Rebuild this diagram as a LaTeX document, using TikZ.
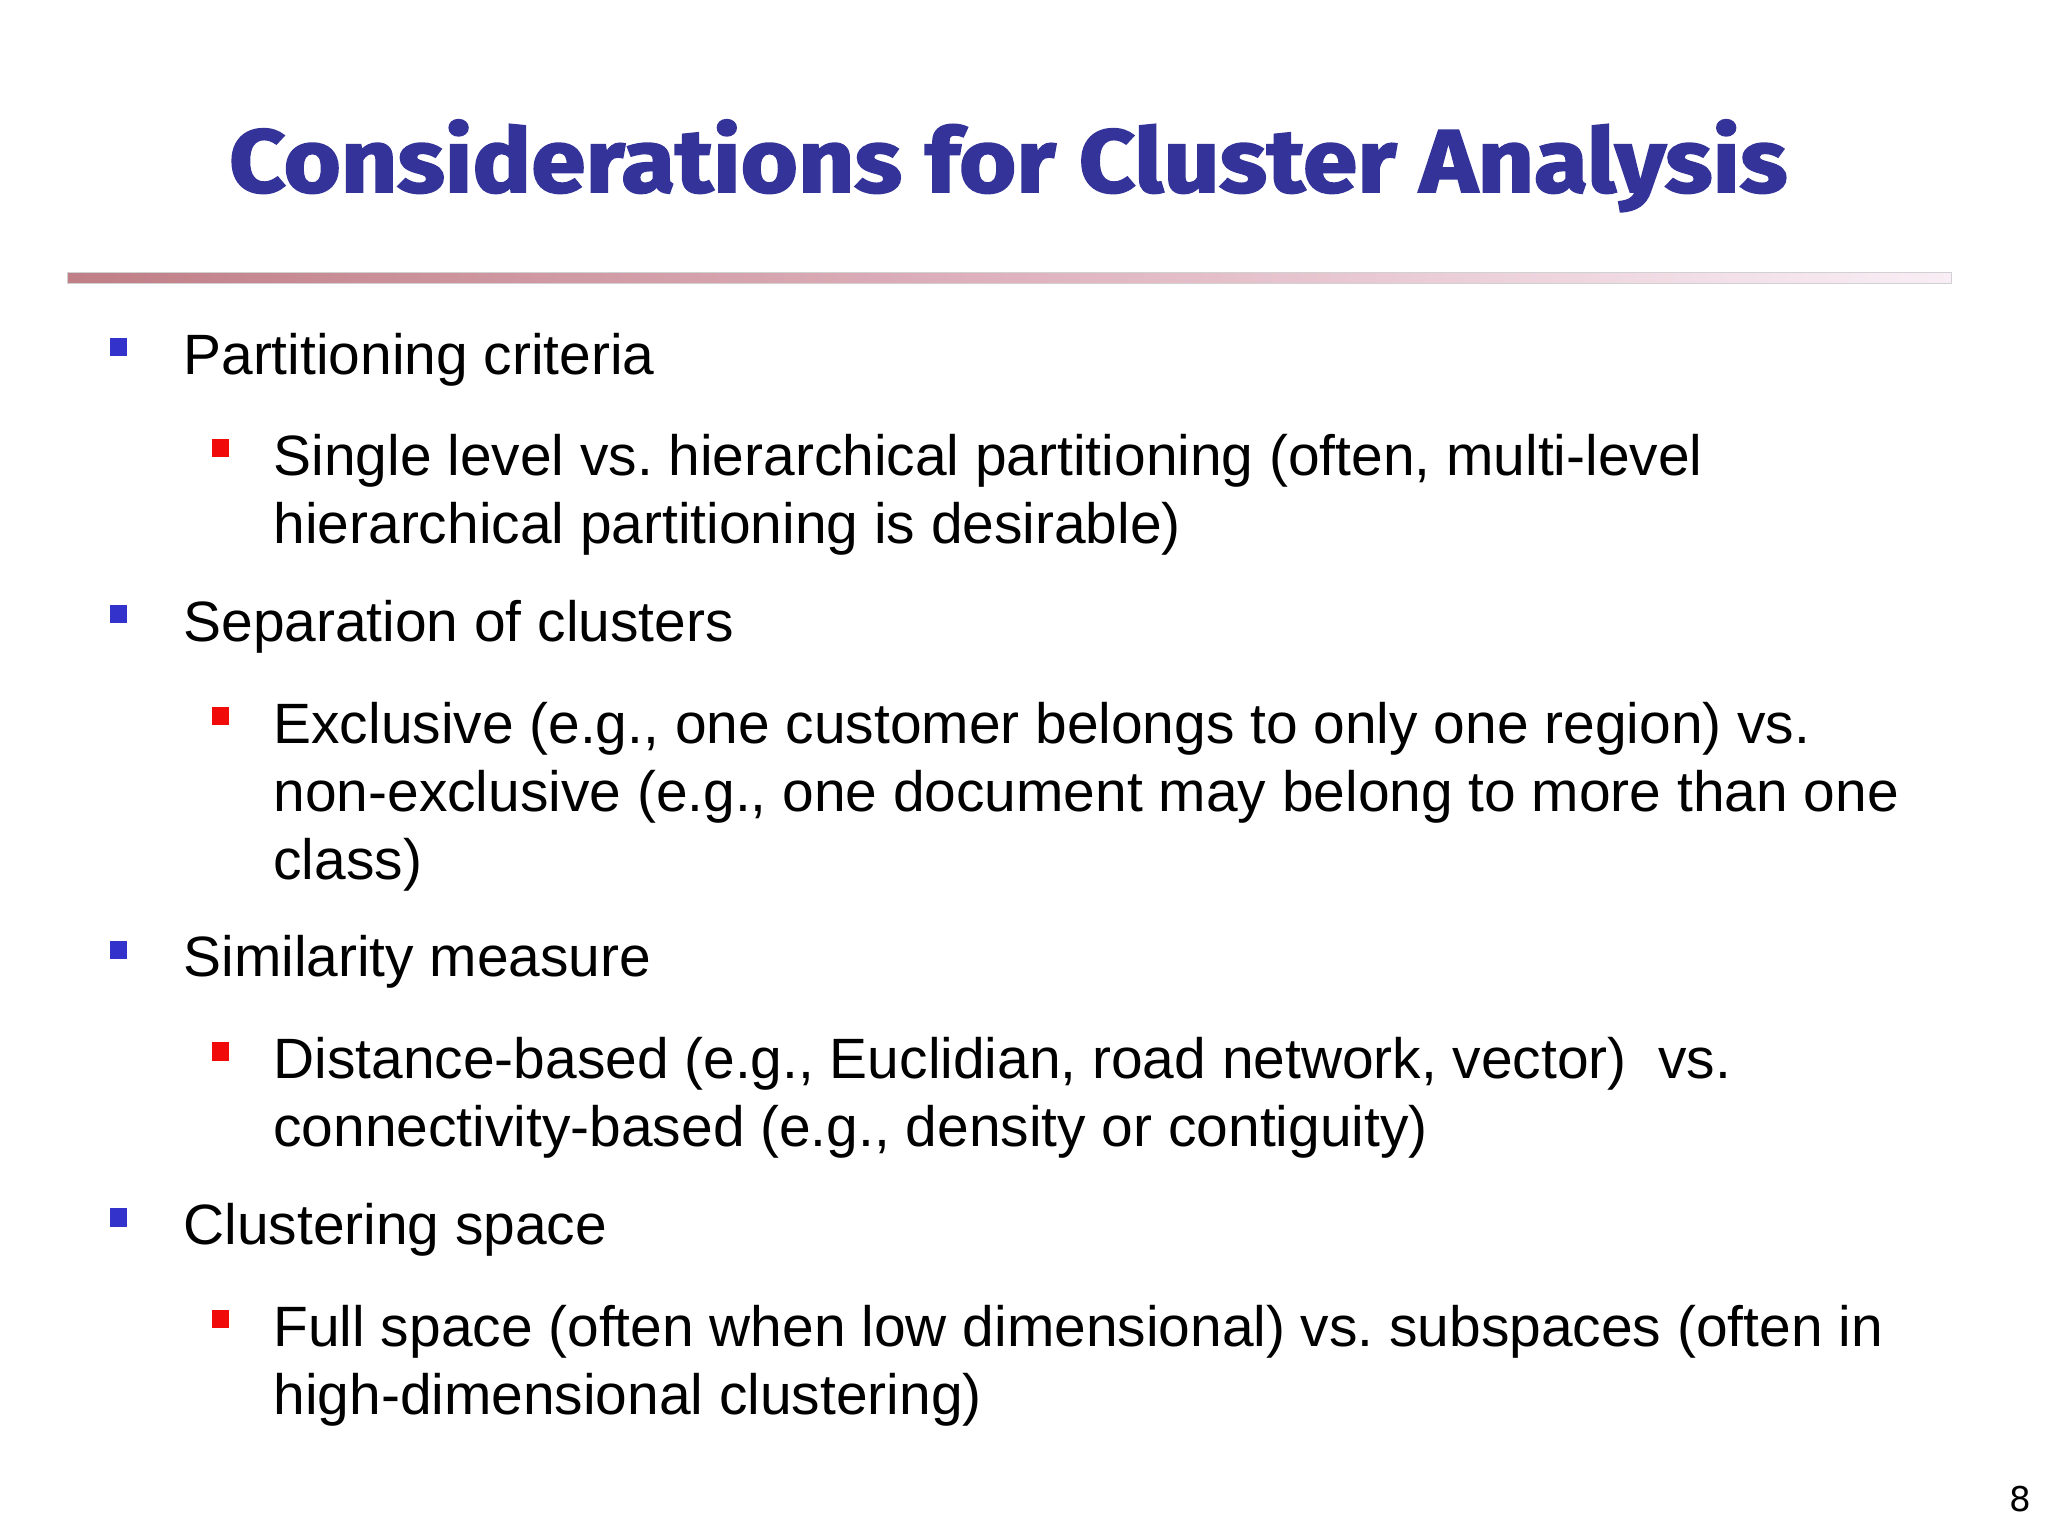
\documentclass[tikz,border=0pt]{standalone}
\usepackage{fontspec}
\setmainfont{Liberation Sans}
\newfontfamily\titlefont{Fira Sans}[BoldFeatures={FakeBold=2}]
\newfontfamily\numfont{DejaVu Sans}
\definecolor{titleblue}{RGB}{51,51,153}
\definecolor{bulletblue}{RGB}{51,51,204}
\definecolor{bulletred}{RGB}{240,10,10}
\definecolor{barL}{RGB}{192,126,134}
\definecolor{barM}{RGB}{222,178,190}
\definecolor{barR}{RGB}{249,238,245}
\frenchspacing
\tikzset{
  bodytext/.style={anchor=base west, inner sep=0pt, font=\fontsize{20pt}{24pt}\selectfont, text=black},
  bulletone/.style={fill=bulletblue, draw=none, inner sep=0pt, minimum width=6pt, minimum height=6.4pt, anchor=south west},
  bullettwo/.style={fill=bulletred, draw=none, inner sep=0pt, minimum width=6pt, minimum height=6.4pt, anchor=south west},
}
\begin{document}
\begin{tikzpicture}[x=0.45918pt,y=-0.45918pt]
\useasboundingbox (0,0) rectangle (1568,1176);
\fill[white] (0,0) rectangle (1568,1176);
% title
\node[anchor=base west, inner sep=0pt, text=titleblue] (title) at (175,147)
  {\resizebox{547.8pt}{25.4pt}{\titlefont\bfseries Considerations for Cluster Analysis}};
% bar
\shade[left color=barL, right color=barR, middle color=barM] (52,208.5) rectangle (1494,217.2);
\draw[black!18, line width=0.4pt] (52,208.5) rectangle (1494,217.2);
% level 1 and 2 items
\node[bulletone] (b1) at (84,273) {};
\node[bodytext] (t1) at (140,286.5) {Partitioning criteria};
\node[bullettwo] (b2) at (162,350.5) {};
\node[bodytext] (t2a) at (209,364) {Single level vs. hierarchical partitioning (often, multi-level};
\node[bodytext] (t2b) at (209,416) {hierarchical partitioning is desirable)};
\node[bulletone] (b3) at (84,477.5) {};
\node[bodytext] (t3) at (140,491) {Separation of clusters};
\node[bullettwo] (b4) at (162,555.5) {};
\node[bodytext] (t4a) at (209,569) {Exclusive (e.g., one customer belongs to only one region) vs.};
\node[bodytext] (t4b) at (209,621) {non-exclusive (e.g., one document may belong to more than one};
\node[bodytext] (t4c) at (209,673) {class)};
\node[bulletone] (b5) at (84,734.5) {};
\node[bodytext] (t5) at (140,748) {Similarity measure};
\node[bullettwo] (b6) at (162,812.5) {};
\node[bodytext] (t6a) at (209,826) {Distance-based (e.g., Euclidian, road network, vector)\ \ vs.};
\node[bodytext] (t6b) at (209,878) {connectivity-based (e.g., density or contiguity)};
\node[bulletone] (b7) at (84,939.5) {};
\node[bodytext] (t7) at (140,953) {Clustering space};
\node[bullettwo] (b8) at (162,1017.5) {};
\node[bodytext] (t8a) at (209,1031) {Full space (often when low dimensional) vs. subspaces (often in};
\node[bodytext] (t8b) at (209,1083) {high-dimensional clustering)};
% page number
\node[anchor=base west, inner sep=0pt, font=\numfont\fontsize{12pt}{14pt}\selectfont] (pg) at (1538,1157) {8};
\end{tikzpicture}
\end{document}
